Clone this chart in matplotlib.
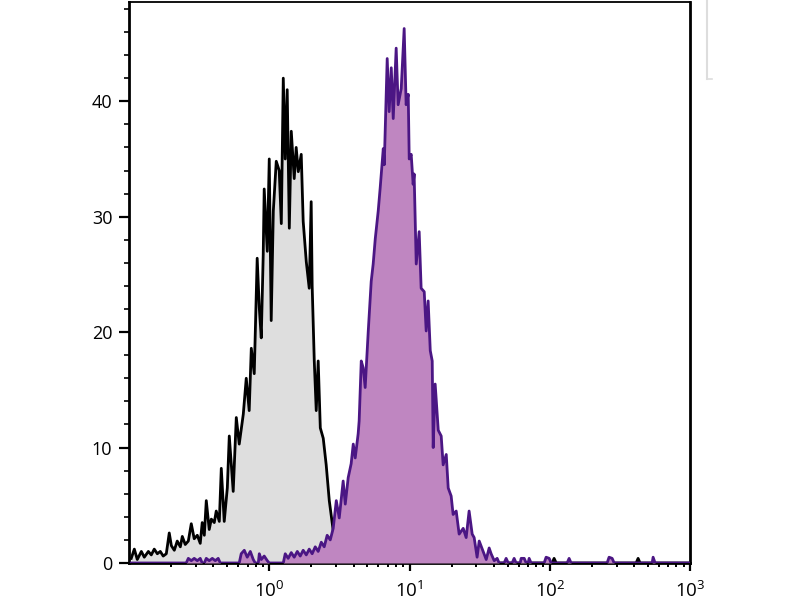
import matplotlib
matplotlib.use("Agg")
import matplotlib.pyplot as plt
import numpy as np
from matplotlib.lines import Line2D
from matplotlib.ticker import MultipleLocator, LogLocator, NullFormatter

# log10 of fluorescence intensity and event counts
grey_log = [-0.984, -0.962, -0.941, -0.912, -0.891, -0.862, -0.841, -0.820, -0.798, -0.777,
            -0.756, -0.734, -0.713, -0.698, -0.677, -0.656, -0.634, -0.620, -0.599, -0.577,
            -0.556, -0.535, -0.513, -0.492, -0.478, -0.463, -0.449, -0.428, -0.413, -0.392,
            -0.378, -0.356, -0.342, -0.321, -0.299, -0.285, -0.257, -0.235, -0.214, -0.185,
            -0.164, -0.143, -0.128, -0.107, -0.086, -0.071, -0.057, -0.043, -0.036, -0.014,
            0.000, 0.014, 0.029, 0.050, 0.071, 0.086, 0.100, 0.114, 0.128, 0.143,
            0.157, 0.178, 0.192, 0.207, 0.228, 0.242, 0.264, 0.285, 0.299, 0.306,
            0.321, 0.335, 0.349, 0.364, 0.385, 0.406, 0.428, 0.456, 0.478, 0.499,
            0.513, 0.549, 2.017, 2.031, 2.046, 2.616, 2.630, 2.644, 3.008]
grey_count = [0.4, 1.2, 0.3, 1.0, 0.5, 1.0, 0.7, 1.2, 0.8, 1.0,
              0.6, 0.8, 2.6, 1.5, 1.1, 1.9, 1.4, 2.3, 1.6, 1.9,
              3.4, 2.1, 2.4, 1.7, 3.5, 2.4, 5.4, 2.9, 3.8, 3.5,
              4.5, 3.6, 8.2, 3.6, 6.5, 11.0, 6.2, 12.6, 10.3, 12.9,
              16.0, 13.2, 18.6, 16.4, 26.4, 22.1, 19.5, 26.7, 32.4, 27.0,
              35.0, 21.0, 30.5, 34.8, 34.0, 29.4, 42.0, 35.0, 41.0, 29.0,
              37.4, 33.3, 36.0, 33.9, 35.4, 29.6, 26.1, 23.8, 31.3, 24.0,
              17.5, 13.2, 17.5, 11.7, 10.8, 8.5, 5.4, 2.8, 1.2, 0.8,
              0.4, 0.0, 0.0, 0.4, 0.0, 0.0, 0.4, 0.0, 0.0]

purple_log = [-0.984, -0.592, -0.577, -0.556, -0.535, -0.513, -0.492, -0.478, -0.463, -0.449,
              -0.428, -0.406, -0.385, -0.364, -0.349, -0.214, -0.200, -0.178, -0.157, -0.135,
              -0.114, -0.100, -0.078, -0.071, -0.057, -0.036, -0.014, 0.000, 0.100, 0.114,
              0.135, 0.157, 0.178, 0.200, 0.221, 0.242, 0.264, 0.285, 0.306, 0.328,
              0.349, 0.371, 0.392, 0.413, 0.435, 0.456, 0.478, 0.499, 0.527, 0.542,
              0.563, 0.584, 0.599, 0.613, 0.634, 0.641, 0.656, 0.670, 0.684, 0.706,
              0.727, 0.741, 0.756, 0.777, 0.791, 0.813, 0.820, 0.841, 0.855, 0.870,
              0.884, 0.905, 0.919, 0.941, 0.962, 0.976, 0.991, 0.998, 1.012, 1.026,
              1.033, 1.048, 1.069, 1.083, 1.105, 1.119, 1.133, 1.148, 1.162, 1.169,
              1.183, 1.205, 1.226, 1.240, 1.262, 1.276, 1.297, 1.311, 1.333, 1.354,
              1.383, 1.404, 1.425, 1.447, 1.461, 1.482, 1.497, 1.525, 1.547, 1.568,
              1.582, 1.604, 1.625, 1.639, 1.675, 1.689, 1.704, 1.732, 1.746, 1.760,
              1.789, 1.796, 1.818, 1.832, 1.846, 1.853, 1.867, 1.960, 1.974, 1.996,
              2.010, 2.124, 2.138, 2.152, 2.409, 2.423, 2.445, 2.459, 2.730, 2.737,
              2.751, 3.008]
purple_count = [0.0, 0.0, 0.4, 0.2, 0.4, 0.2, 0.4, 0.0, 0.0, 0.4,
                0.2, 0.4, 0.2, 0.4, 0.0, 0.0, 0.8, 1.1, 0.5, 1.0,
                0.3, 0.0, 0.0, 0.8, 0.3, 0.6, 0.2, 0.0, 0.0, 0.8,
                0.4, 0.9, 0.5, 1.0, 0.6, 1.1, 0.7, 1.2, 0.8, 1.4,
                1.0, 1.8, 1.4, 2.4, 2.0, 3.0, 5.4, 3.9, 7.1, 5.1,
                7.4, 8.6, 10.3, 9.1, 11.2, 12.3, 17.5, 16.9, 15.2, 20.1,
                24.4, 25.9, 28.1, 30.5, 32.5, 35.9, 34.5, 43.7, 39.1, 42.9,
                38.5, 44.6, 39.7, 41.1, 46.3, 39.7, 40.6, 35.0, 35.4, 32.8,
                33.7, 25.9, 28.7, 23.8, 23.5, 20.1, 22.7, 18.4, 17.5, 10.0,
                15.5, 11.5, 11.0, 8.5, 9.4, 6.5, 5.8, 4.2, 4.5, 2.5,
                3.0, 2.2, 4.5, 2.5, 2.2, 0.5, 1.9, 1.0, 0.3, 1.3,
                0.8, 0.2, 0.4, 0.0, 0.0, 0.4, 0.0, 0.0, 0.4, 0.0,
                0.0, 0.4, 0.4, 0.0, 0.0, 0.4, 0.0, 0.0, 0.5, 0.4,
                0.0, 0.0, 0.4, 0.0, 0.0, 0.5, 0.4, 0.0, 0.0, 0.5,
                0.0, 0.0]

x_ticks = [1, 10, 100, 1000]
x_tick_labels = [r'$\mathregular{10^{0}}$', r'$\mathregular{10^{1}}$',
                 r'$\mathregular{10^{2}}$', r'$\mathregular{10^{3}}$']
y_ticks = [0, 10, 20, 30, 40]

plt.rcParams['font.family'] = ['Open Sans', 'DejaVu Sans']

fig = plt.figure(figsize=(8, 6), dpi=100)
ax = fig.add_axes([0.16125, 0.0617, 0.70125, 0.935])

gx = 10 ** np.array(grey_log)
px = 10 ** np.array(purple_log)

ax.fill_between(gx, grey_count, 0, color='#dedede', lw=0, zorder=1)
ax.plot(gx, grey_count, color='black', lw=2.0, zorder=2)
ax.fill_between(px, purple_count, 0, color='#bf86c1', lw=0, zorder=3)
ax.plot(px, purple_count, color='#4b1684', lw=2.0, zorder=4)

ax.set_xscale('log')
ax.set_xlim(0.1, 1000)
ax.set_ylim(0, 48.6)

ax.set_xticks(x_ticks)
ax.set_xticklabels(x_tick_labels)
ax.xaxis.set_minor_locator(LogLocator(base=10, subs=np.arange(2, 10)))
ax.xaxis.set_minor_formatter(NullFormatter())
ax.set_yticks(y_ticks)
ax.yaxis.set_minor_locator(MultipleLocator(2))

ax.tick_params(axis='x', which='major', direction='out', length=6, width=1.6,
               labelsize=13.5, pad=7)
ax.tick_params(axis='x', which='minor', direction='out', length=3, width=1.4)
ax.tick_params(axis='y', which='major', direction='out', length=7, width=1.6,
               labelsize=13, pad=5)
ax.tick_params(axis='y', which='minor', direction='out', length=3.5, width=1.2)

for side in ['left', 'bottom', 'right']:
    ax.spines[side].set_linewidth(2)
ax.spines['top'].set_linewidth(1.3)

# faint remainder of a cropped legend box at the right edge
fig.add_artist(Line2D([0.8838, 0.8838], [1.0, 0.868], color='#dddddd', lw=1.5))
fig.add_artist(Line2D([0.8838, 0.8900], [0.868, 0.868], color='#dddddd', lw=1.2))

fig.savefig('out.png', dpi=100)
